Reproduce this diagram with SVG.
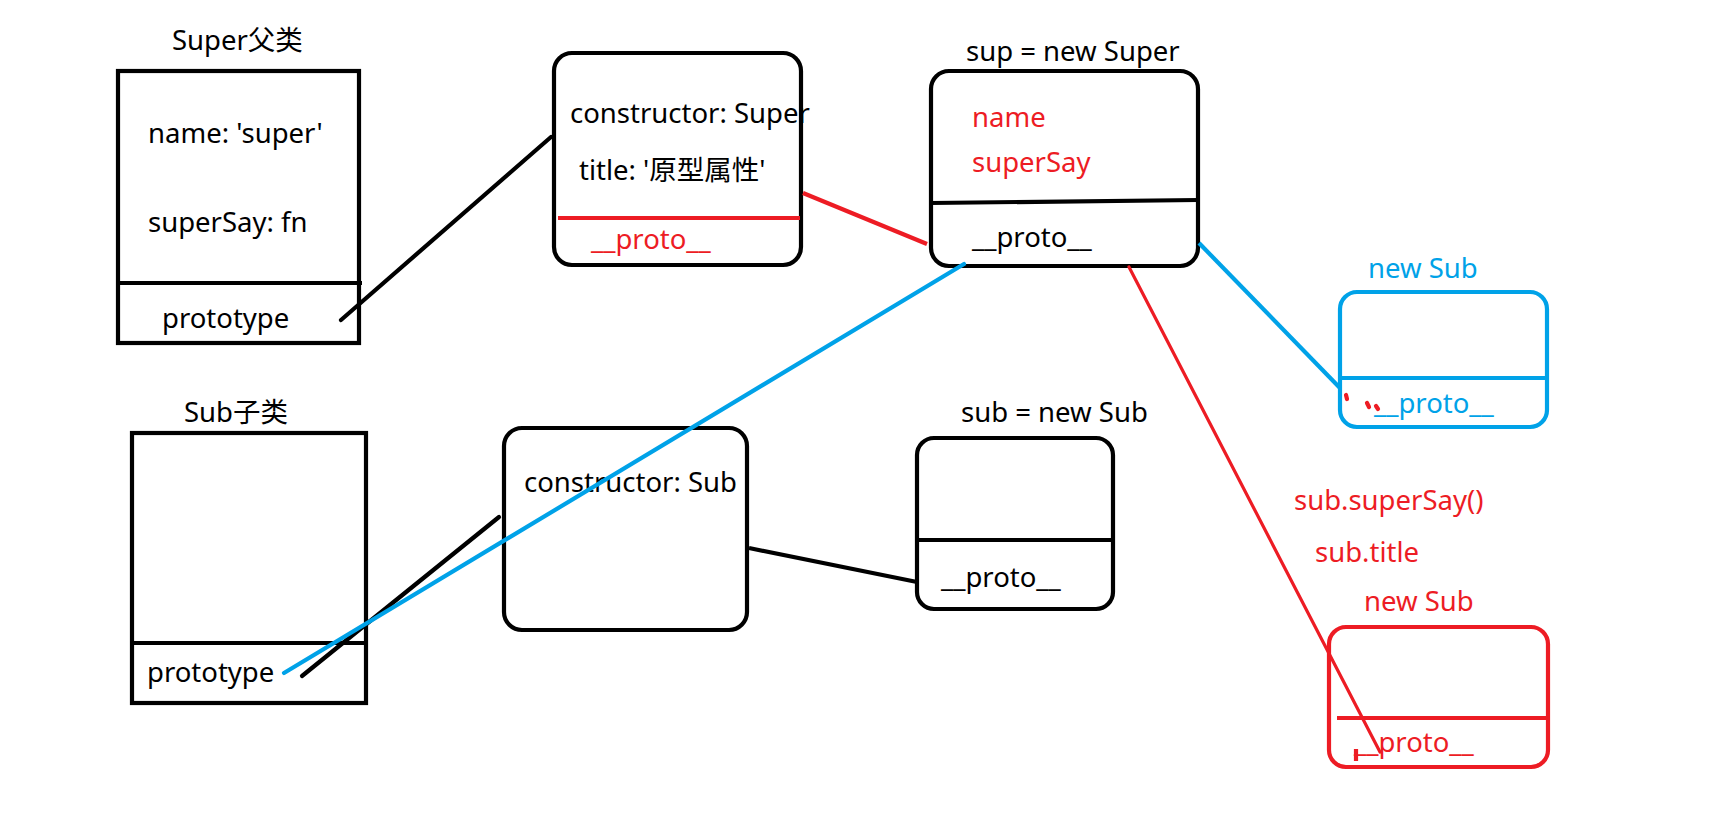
<svg xmlns="http://www.w3.org/2000/svg" width="1713" height="825" viewBox="0 0 1713 825">
<style>
text{font-family:"Noto Sans","Noto Sans CJK SC",sans-serif;font-size:27.5px;fill:#000}
.r{fill:#ED1C24}
.b{fill:#00A2E8}
.k{stroke:#000;stroke-width:4.2;fill:none}
.kr{stroke:#ED1C24;stroke-width:4.2;fill:none}
.kb{stroke:#00A2E8;stroke-width:4.2;fill:none}
.ln{stroke-linecap:round}
</style>
<rect width="1713" height="825" fill="#fff"/>
<g id="super-class">
<text x="172" y="50">Super父类</text>
<rect x="118" y="71" width="241" height="272" class="k"/>
<line x1="118" y1="283" x2="362" y2="283" class="k"/>
<text x="148" y="143">name: 'super'</text>
<text x="148" y="232">superSay: fn</text>
<text x="162" y="328">prototype</text>
</g>
<g id="super-prototype">
<rect x="554" y="53" width="247" height="212" rx="18" class="k"/>
<text x="570" y="123">constructor: Super</text>
<text x="579" y="180">title: '原型属性'</text>
<line x1="558" y1="218" x2="800" y2="218" class="kr"/>
<text x="591" y="249" class="r">__proto__</text>
</g>
<g id="sup-instance">
<text x="966" y="61">sup = new Super</text>
<rect x="931" y="71" width="267" height="195" rx="18" class="k"/>
<text x="972" y="127" class="r">name</text>
<text x="972" y="172" class="r">superSay</text>
<line x1="931" y1="203" x2="1198" y2="200" class="k"/>
<text x="972" y="247">__proto__</text>
</g>
<g id="new-sub-blue">
<text x="1368" y="278" class="b">new Sub</text>
<rect x="1340" y="292" width="207" height="135" rx="17" class="kb"/>
<line x1="1340" y1="378" x2="1547" y2="378" class="kb"/>
<text x="1374" y="413" class="b">__proto__</text>
<line x1="1346" y1="395" x2="1347" y2="399" class="kr ln"/>
<line x1="1367" y1="403" x2="1369" y2="407" class="kr ln"/>
<line x1="1376" y1="406" x2="1378" y2="409" class="kr ln"/>
</g>
<g id="sub-class">
<text x="184" y="422">Sub子类</text>
<rect x="132" y="433" width="234" height="270" class="k"/>
<line x1="132" y1="643" x2="366" y2="643" class="k"/>
<text x="147" y="682">prototype</text>
</g>
<g id="sub-prototype">
<rect x="504" y="428" width="243" height="202" rx="18" class="k"/>
<text x="524" y="492">constructor: Sub</text>
</g>
<g id="sub-instance">
<text x="961" y="422">sub = new Sub</text>
<rect x="917" y="438" width="196" height="171" rx="17" class="k"/>
<line x1="917" y1="540" x2="1115" y2="540" class="k"/>
<text x="941" y="587">__proto__</text>
</g>
<g id="new-sub-red">
<text x="1294" y="510" class="r">sub.superSay()</text>
<text x="1315" y="562" class="r">sub.title</text>
<text x="1364" y="611" class="r">new Sub</text>
<rect x="1329" y="627" width="219" height="140" rx="17" class="kr"/>
<line x1="1337" y1="718" x2="1546" y2="718" class="kr"/>
<text x="1354" y="752" class="r">__proto__</text>
<line x1="1356" y1="749" x2="1356" y2="761" class="kr"/>
</g>
<g id="connectors">
<line x1="341" y1="320" x2="551" y2="137" class="k ln"/>
<line x1="803" y1="193" x2="927" y2="244" class="kr"/>
<line x1="302" y1="676" x2="499" y2="517" class="k ln"/>
<line x1="749" y1="548" x2="917" y2="582" class="k"/>
<line x1="284" y1="673" x2="964" y2="264" class="kb ln"/>
<line x1="1199" y1="243" x2="1340" y2="388" class="kb"/>
<line x1="1129" y1="267" x2="1380" y2="752" class="kr ln" style="stroke-width:3.2"/>
</g>
</svg>
